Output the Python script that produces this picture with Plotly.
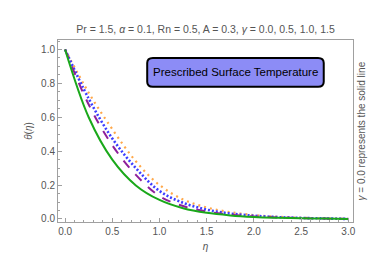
import plotly.graph_objects as go

eta = [0.0, 0.25, 0.5, 0.75, 1.0, 1.25, 1.5, 1.75, 2.0, 2.25, 2.5, 2.75, 3.0]
theta_g00 = [1.0, 0.600, 0.350, 0.198, 0.112, 0.063, 0.036, 0.021, 0.012, 0.007, 0.004, 0.002, 0.0]
theta_g05 = [1.0, 0.675, 0.435, 0.260, 0.135, 0.076, 0.044, 0.026, 0.015, 0.009, 0.005, 0.002, 0.0]
theta_g10 = [1.0, 0.710, 0.475, 0.300, 0.165, 0.095, 0.055, 0.032, 0.019, 0.011, 0.006, 0.003, 0.0]
theta_g15 = [1.0, 0.745, 0.530, 0.340, 0.200, 0.115, 0.068, 0.040, 0.023, 0.013, 0.007, 0.003, 0.0]

x_ticks = [0.0, 0.5, 1.0, 1.5, 2.0, 2.5, 3.0]
y_ticks = [0.0, 0.2, 0.4, 0.6, 0.8, 1.0]

series = [
    (theta_g15, "#ffa84a", "2px,4px", 2.2),
    (theta_g10, "#3d3dff", "2px,2px", 2.6),
    (theta_g05, "#8e1f9a", "9px,9px", 2.0),
    (theta_g00, "#1aa81a", "solid", 2.0),
]

fig = go.Figure()
for ys, col, dash, w in series:
    fig.add_trace(go.Scatter(x=eta, y=ys, mode="lines", line=dict(color=col, dash=dash, width=w, shape="spline"),
                             showlegend=False, hoverinfo="skip"))

font_family = "Liberation Sans, Arial, sans-serif"
gray = "#555555"
axcol = "#a0a0a0"

fig.update_layout(
    width=390, height=270,
    margin=dict(l=58, r=37, t=40, b=48, autoexpand=False),
    paper_bgcolor="white", plot_bgcolor="white",
    font=dict(family=font_family, size=10, color=gray),
    title=dict(text="Pr = 1.5, <i>α</i> = 0.1, Rn = 0.5, A = 0.3, <i>γ</i> = 0.0, 0.5, 1.0, 1.5",
               x=0.5, xref="paper", xanchor="center", y=1 - 29 / 270, yanchor="middle",
               font=dict(size=10.5, color=gray, family=font_family)),
    xaxis=dict(range=[-0.075, 3.05], tickvals=x_ticks, ticktext=[f"{v:.1f}" for v in x_ticks],
               automargin=False,
               showgrid=False, zeroline=False, showline=True, mirror=True, linecolor=axcol, linewidth=1,
               ticks="inside", ticklen=4, tickcolor=axcol,
               minor=dict(ticks="inside", ticklen=2, tickcolor=axcol, dtick=0.1),
               title=dict(text="<i>η</i>", standoff=6, font=dict(size=10, color=gray))),
    yaxis=dict(range=[-0.018, 1.056], tickvals=y_ticks, ticktext=[f"{v:.1f}" for v in y_ticks],
               automargin=False,
               showgrid=False, zeroline=False, showline=True, mirror=True, linecolor=axcol, linewidth=1,
               ticks="inside", ticklen=4, tickcolor=axcol,
               minor=dict(ticks="inside", ticklen=2, tickcolor=axcol, dtick=0.05),
               title=dict(text="<i>θ</i>(<i>η</i>)", standoff=6, font=dict(size=10, color=gray))),
)

# Rounded box
x0, x1, y0, y1 = 0.87, 2.74, 0.78, 0.95
rx, ry = 0.06, 0.03
path = (f"M {x0+rx},{y0} L {x1-rx},{y0} Q {x1},{y0} {x1},{y0+ry} L {x1},{y1-ry} Q {x1},{y1} {x1-rx},{y1} "
        f"L {x0+rx},{y1} Q {x0},{y1} {x0},{y1-ry} L {x0},{y0+ry} Q {x0},{y0} {x0+rx},{y0} Z")
fig.add_shape(type="path", path=path, xref="x", yref="y", fillcolor="#8c8cf6",
              line=dict(color="black", width=2), layer="above")
fig.add_annotation(x=(x0 + x1) / 2, y=(y0 + y1) / 2, xref="x", yref="y", text="Prescribed Surface Temperature",
                   showarrow=False, font=dict(size=11.5, color="black", family=font_family))

fig.add_annotation(x=1, xref="paper", xshift=15, y=0.5, yref="paper", textangle=-90,
                   text="<i>γ</i> = 0.0 represents the solid line", showarrow=False,
                   font=dict(size=10, color=gray, family=font_family))

fig.write_html("out.html", config={"displayModeBar": False},
               post_script="document.body.style.margin='0';")
